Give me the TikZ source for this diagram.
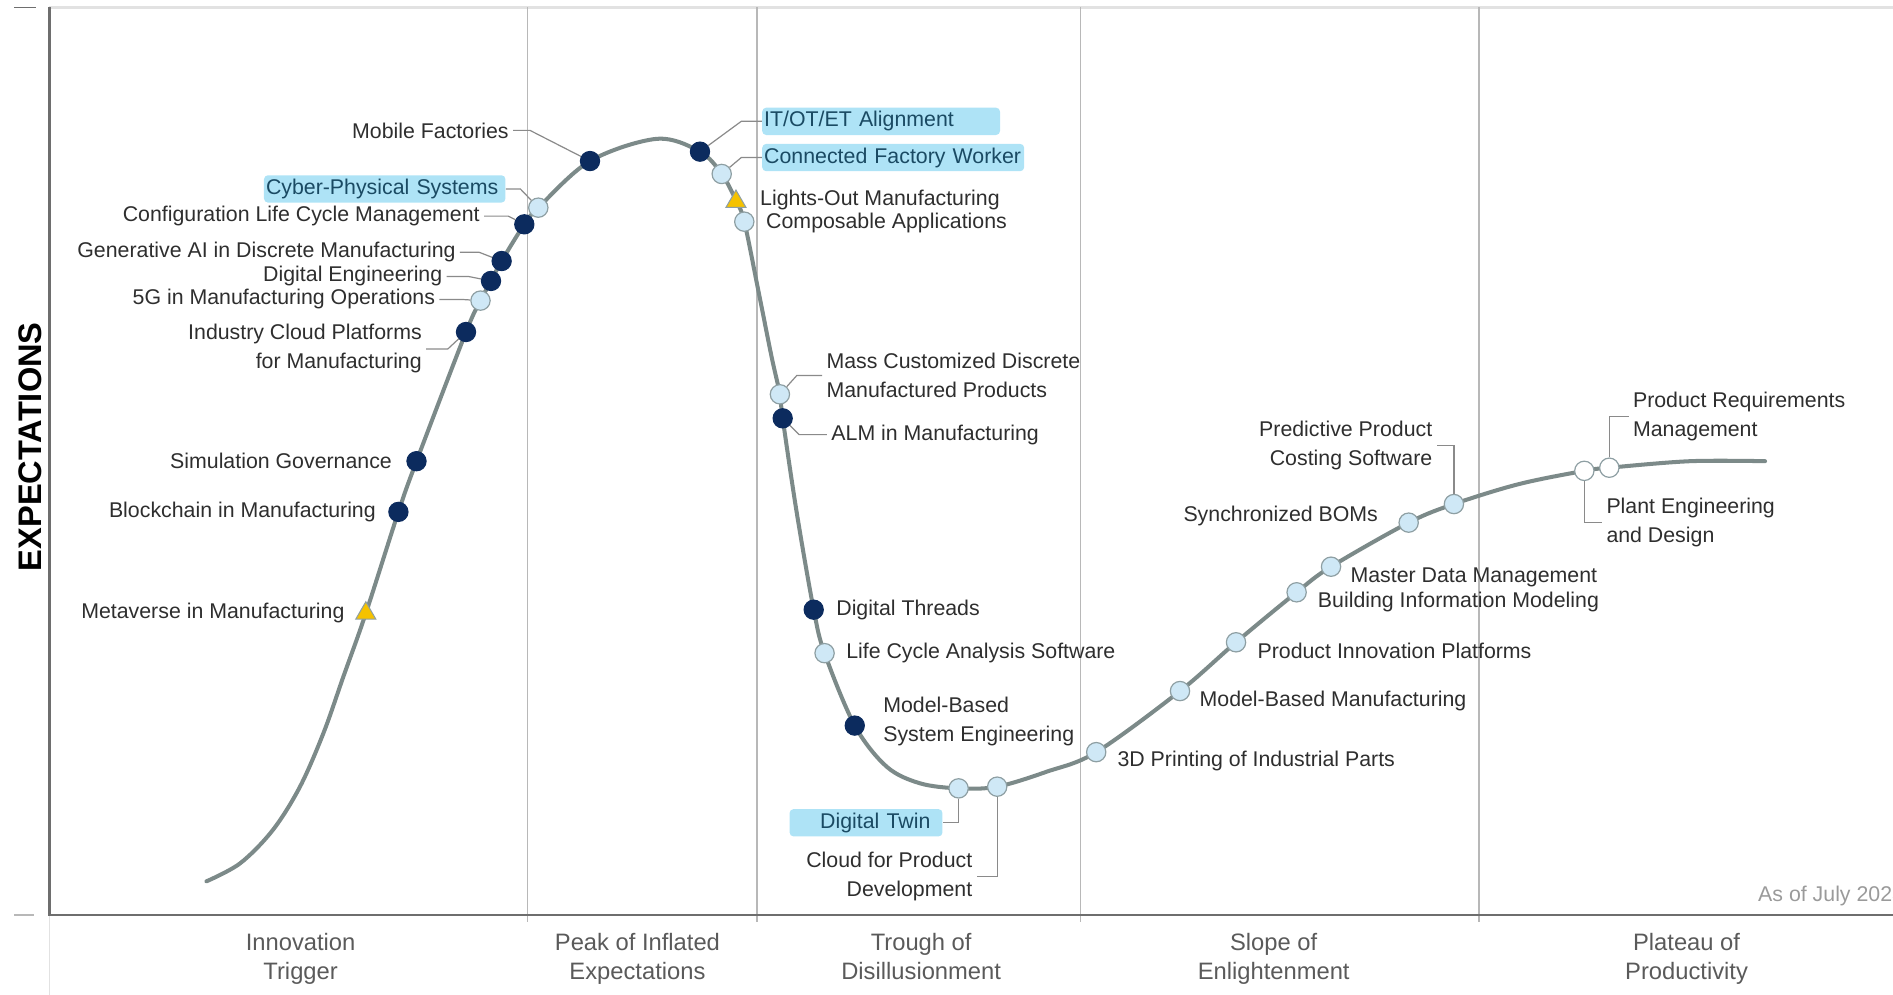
\documentclass[tikz,border=0pt]{standalone}
\usepackage{fontspec}
\setmainfont{Liberation Sans}
\usetikzlibrary{positioning,shapes.geometric}

\definecolor{navyDot}{HTML}{0C2B5E}
\definecolor{paleDot}{HTML}{CFE8F6}
\definecolor{dotRim}{HTML}{8E9FA3}
\definecolor{goldTri}{HTML}{F5C200}
\definecolor{hypeLine}{HTML}{7C8A89}
\definecolor{leadGray}{HTML}{8A8A8A}
\definecolor{labelGray}{HTML}{2E2E2E}
\definecolor{phaseGray}{HTML}{5A5A5A}
\definecolor{hiliteFill}{HTML}{AEE3F6}
\definecolor{hiliteText}{HTML}{1A4A63}
\definecolor{splitGray}{HTML}{B8B8B8}
\definecolor{axisGray}{HTML}{6E6E6E}
\definecolor{topGray}{HTML}{E2E2E2}
\definecolor{asofGray}{HTML}{9A9A9A}

\newcommand{\itemfont}{\fontsize{10.6}{14.4}\selectfont}
\newcommand{\phasefont}{\fontsize{11.8}{14.4}\selectfont}

\tikzset{
  itemlbl/.style={font=\itemfont, text=labelGray, inner xsep=2pt, inner ysep=1pt},
  hilite/.style={itemlbl, fill=hiliteFill, text=hiliteText, rounded corners=2pt,
                 inner xsep=1pt, minimum height=13.6pt},
  darkdot/.style={circle, fill=navyDot, draw=navyDot, line width=0.5pt,
                  minimum size=9.6pt, inner sep=0pt},
  palecirc/.style={circle, fill=paleDot, draw=dotRim, line width=0.6pt,
                   minimum size=9.6pt, inner sep=0pt},
  whitecirc/.style={palecirc, fill=white},
  risetri/.style={regular polygon, regular polygon sides=3, fill=goldTri,
                  draw=dotRim, line width=0.5pt, minimum size=11.5pt, inner sep=0pt},
  leadline/.style={draw=leadGray, line width=0.6pt},
  phaselbl/.style={font=\phasefont, text=phaseGray, align=center, anchor=north}
}

\begin{document}
\begin{tikzpicture}[x=0.6pt, y=-0.6pt]

  \useasboundingbox (0,0) rectangle (1568,824);

  \draw[topGray, line width=1.6pt] (41,6) -- (1568,6);
  \draw[axisGray, line width=0.7pt] (12,6) -- (30,6);
  \draw[splitGray, line width=0.7pt] (12,758) -- (28,758);
  \foreach \xd in {437,627,895,1225}
    \draw[splitGray, line width=0.8pt] (\xd,6) -- (\xd,764);
  \draw[topGray, line width=0.6pt] (41,758) -- (41,824);
  \draw[axisGray, line width=1pt] (41,6) -- (41,758) -- (1568,758);

  \node[rotate=90, font=\fontsize{16.2}{20}\selectfont\bfseries] (yLabel)
       at (25,370) {EXPECTATIONS};

  \node[phaselbl] (trigger) at (249,767.5) {Innovation\\Trigger};
  \node[phaselbl] (peak)    at (528,767.5) {Peak of Inflated\\Expectations};
  \node[phaselbl] (trough)  at (763,767.5) {Trough of\\Disillusionment};
  \node[phaselbl] (slope)   at (1055,767.5) {Slope of\\Enlightenment};
  \node[phaselbl] (plateau) at (1397,767.5) {Plateau of\\Productivity};

  \node[anchor=west, font=\itemfont, text=asofGray, inner sep=0pt] (asOf)
       at (1456,742) {As of July 2023};

  \draw[hypeLine, line width=2pt, line cap=round] plot[smooth, tension=0.55]
    coordinates {(171,730) (199,715) (226,687.5) (248.5,651.6) (268,607)
      (284.4,560.5) (303,508) (330,424) (345,382) (386,275) (398,249)
      (406.7,232.7) (415.5,216.2) (434.3,185.8) (445.9,172) (488.7,133.4)
      (544,115) (579.8,125.6) (597.8,144.1) (609.6,166) (616.5,183.6)
      (628,240) (639,295) (646,326.6) (648.3,346.5) (660,425) (674,505)
      (683,541) (708,601) (734.4,635) (762,648.8) (794,653) (826,651.6)
      (867,639.2) (908,623) (977.4,572.4) (1023.8,532) (1074,490.6)
      (1102.5,469.4) (1166.8,432.9) (1204.3,417.5) (1258,401)
      (1312.3,390) (1333,387.4) (1400,382) (1462,382)};

  \node[risetri]   (metaMfg)    at (303,508) {};
  \node[darkdot]   (blockMfg)   at (330,424) {};
  \node[darkdot]   (simGov)     at (345,382) {};
  \node[darkdot]   (indCloud)   at (386,275) {};
  \node[palecirc]  (fiveG)      at (398,249) {};
  \node[darkdot]   (digEng)     at (406.7,232.7) {};
  \node[darkdot]   (genAI)      at (415.5,216.2) {};
  \node[palecirc]  (cyberPhys)  at (445.9,172) {};
  \node[darkdot]   (configLCM)  at (434.3,185.8) {};
  \node[darkdot]   (mobFact)    at (488.7,133.4) {};
  \node[darkdot]   (itotAlign)  at (579.8,125.6) {};
  \node[palecirc]  (connWorker) at (597.8,144.1) {};
  \node[risetri]   (lightsOut)  at (609.6,167) {};
  \node[palecirc]  (composable) at (616.5,183.6) {};
  \node[darkdot]   (almMfg)     at (648.3,346.5) {};
  \node[palecirc]  (massCust)   at (646,326.6) {};
  \node[darkdot]   (digThreads) at (674,505) {};
  \node[palecirc]  (lcaSoft)    at (683,541) {};
  \node[darkdot]   (mbse)       at (708,601) {};
  \node[palecirc]  (digTwin)    at (794,653) {};
  \node[palecirc]  (cloudPD)    at (826,651.6) {};
  \node[palecirc]  (printParts) at (908,623) {};
  \node[palecirc]  (mbMfg)      at (977.4,572.4) {};
  \node[palecirc]  (prodInnov)  at (1023.8,532) {};
  \node[palecirc]  (bimModel)   at (1074,490.6) {};
  \node[palecirc]  (masterData) at (1102.5,469.4) {};
  \node[palecirc]  (syncBOM)    at (1166.8,432.9) {};
  \node[palecirc]  (predCost)   at (1204.3,417.5) {};
  \node[whitecirc] (plantEng)   at (1312.3,390) {};
  \node[whitecirc] (prodReq)    at (1333,387.4) {};

  \node[itemlbl, anchor=east] (mobFactL) at (425,108) {Mobile Factories};
  \draw[leadline] (mobFactL.east) -- ++(14,0) -- (mobFact);

  \node[hilite, anchor=east, text width=118pt, align=left] (cyberPhysL)
       at (419,156.5) {Cyber-Physical Systems};
  \draw[leadline] (cyberPhysL.east) -- ++(12,0) -- (cyberPhys);

  \node[itemlbl, anchor=east] (configLCML) at (401,179)
       {Configuration Life Cycle Management};
  \draw[leadline] (configLCML.east) -- ++(20,0) -- (configLCM);

  \node[itemlbl, anchor=east] (genAIL) at (381,209)
       {Generative AI in Discrete Manufacturing};
  \draw[leadline] (genAIL.east) -- ++(16,0) -- (genAI);

  \node[itemlbl, anchor=east] (digEngL) at (370,229) {Digital Engineering};
  \draw[leadline] (digEngL.east) -- ++(18,0) -- (digEng);

  \node[itemlbl, anchor=east] (fiveGL) at (364,248)
       {5G in Manufacturing Operations};
  \draw[leadline] (fiveGL.east) -- ++(18,0) -- (fiveG);

  \node[itemlbl, anchor=east, align=right] (indCloudL) at (353,289)
       {Industry Cloud Platforms\\for Manufacturing};
  \draw[leadline] (indCloudL.east) -- ++(18,0) -- (indCloud);

  \node[itemlbl, left=5pt of simGov] (simGovL) {Simulation Governance};
  \node[itemlbl, left=4pt of blockMfg] (blockMfgL) {Blockchain in Manufacturing};
  \node[itemlbl, anchor=east] (metaMfgL) at (289,508) {Metaverse in Manufacturing};

  \node[hilite, anchor=west, text width=116.2pt, align=left] (itotAlignL)
       at (631,100.5) {IT/OT/ET Alignment};
  \draw[leadline] (itotAlignL.west) -- ++(-17,0) -- (itotAlign);

  \node[hilite, anchor=west, text width=128.2pt, align=left] (connWorkerL)
       at (631,130.5) {Connected Factory Worker};
  \draw[leadline] (connWorkerL.west) -- ++(-17,0) -- (connWorker);

  \node[itemlbl, anchor=west] (lightsOutL) at (626,166) {Lights-Out Manufacturing};
  \node[itemlbl, anchor=west] (composableL) at (631,185) {Composable Applications};

  \node[itemlbl, anchor=west, align=left] (massCustL) at (681,311)
       {Mass Customized Discrete\\Manufactured Products};
  \draw[leadline] (massCustL.west) -- ++(-21,0) -- (massCust);

  \node[itemlbl, anchor=west] (almMfgL) at (685,360) {ALM in Manufacturing};
  \draw[leadline] (almMfgL.west) -- ++(-23,0) -- (almMfg);

  \node[itemlbl, right=4pt of digThreads] (digThreadsL) {Digital Threads};
  \node[itemlbl, right=3.5pt of lcaSoft] (lcaSoftL) {Life Cycle Analysis Software};
  \node[itemlbl, anchor=west, align=left] (mbseL) at (728,598)
       {Model-Based\\System Engineering};

  \node[hilite, anchor=east, inner xsep=6pt, text width=64pt, align=right]
       (digTwinL) at (781,681.5) {Digital Twin};
  \draw[leadline] (digTwin) |- (digTwinL.east);

  \node[itemlbl, anchor=east, align=right] (cloudPDL) at (809,726)
       {Cloud for Product\\Development};
  \draw[leadline] (cloudPD) |- (cloudPDL.east);

  \node[itemlbl, anchor=west] (printPartsL) at (922,630)
       {3D Printing of Industrial Parts};
  \node[itemlbl, anchor=west] (mbMfgL) at (990,581) {Model-Based Manufacturing};
  \node[itemlbl, anchor=west] (prodInnovL) at (1038,539)
       {Product Innovation Platforms};
  \node[itemlbl, anchor=west] (masterDataL) at (1115,478) {Master Data Management};
  \node[itemlbl, anchor=west] (bimModelL) at (1088,499)
       {Building Information Modeling};
  \node[itemlbl, anchor=east] (syncBOML) at (1145,427) {Synchronized BOMs};

  \node[itemlbl, anchor=east, align=right] (predCostL) at (1190,369)
       {Predictive Product\\Costing Software};
  \draw[leadline] (predCost) |- (predCostL.east);

  \node[itemlbl, anchor=west, align=left] (prodReqL) at (1349,345)
       {Product Requirements\\Management};
  \draw[leadline] (prodReq) |- (prodReqL.west);

  \node[itemlbl, anchor=west, align=left] (plantEngL) at (1327,433)
       {Plant Engineering\\and Design};
  \draw[leadline] (plantEng) |- (plantEngL.west);

\end{tikzpicture}
\end{document}
